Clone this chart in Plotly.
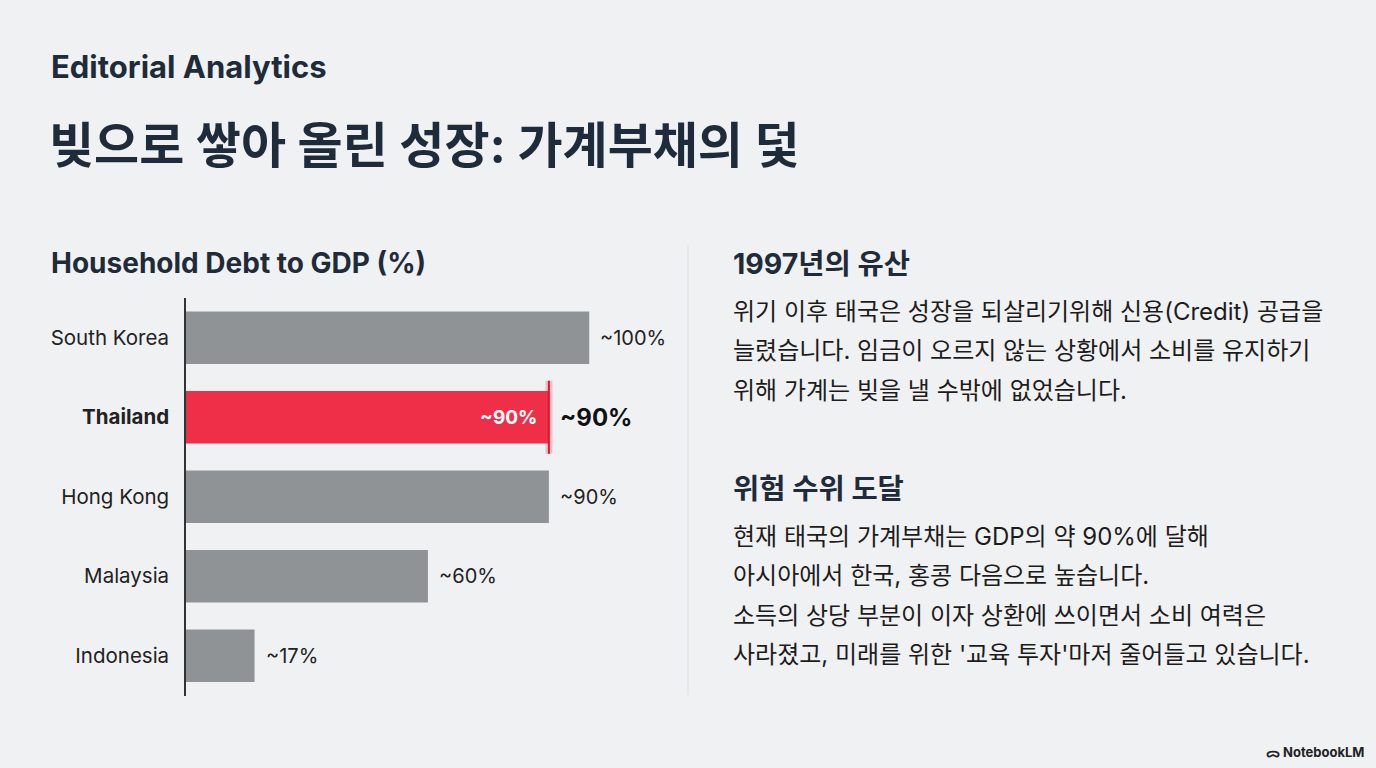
import plotly.graph_objects as go

# data
countries = ['South Korea', 'Thailand', 'Hong Kong', 'Malaysia', 'Indonesia']
debt_pct = [100, 90, 90, 60, 17]
value_labels = ['~100%', '~90%', '~90%', '~60%', '~17%']
focus = 'Thailand'

kicker = 'Editorial Analytics'
headline = '빚으로 쌓아 올린 성장: 가계부채의 덫'
chart_title = 'Household Debt to GDP (%)'

sec1_title = '1997년의 유산'
sec1_lines = ['위기 이후 태국은 성장을 되살리기위해 신용(Credit) 공급을',
              '늘렸습니다. 임금이 오르지 않는 상황에서 소비를 유지하기',
              '위해 가계는 빚을 낼 수밖에 없었습니다.']
sec2_title = '위험 수위 도달'
sec2_lines = ['현재 태국의 가계부채는 GDP의 약 90%에 달해',
              '아시아에서 한국, 홍콩 다음으로 높습니다.',
              '소득의 상당 부분이 이자 상환에 쓰이면서 소비 여력은',
              "사라졌고, 미래를 위한 '교육 투자'마저 줄어들고 있습니다."]

W, H = 1376, 768
BG = '#f0f1f3'
NAVY = '#1e2b3a'
GRAY = '#909396'
RED = '#ef2f48'
KFONT = 'Inter, Noto Sans CJK KR, sans-serif'


def px(x):
    return x / W


def py(y):
    return 1 - y / H


colors = [RED if c == focus else GRAY for c in countries]

fig = go.Figure()
fig.add_trace(go.Bar(
    x=debt_pct, y=countries, orientation='h',
    marker=dict(color=colors, line=dict(width=0)),
    width=0.66, hoverinfo='skip'))

annotations = []
# value labels
for c, v, lab in zip(countries, debt_pct, value_labels):
    if c == focus:
        annotations.append(dict(x=v, y=c, xref='x', yref='y', text='<b>' + lab + '</b>',
                                xanchor='right', xshift=-10, showarrow=False,
                                font=dict(family='Inter', size=19, color='white')))
        annotations.append(dict(x=v, y=c, xref='x', yref='y', text='<b>' + lab + '</b>',
                                xanchor='left', xshift=9, showarrow=False,
                                font=dict(family='Inter', size=24, color='#111111')))
    else:
        annotations.append(dict(x=v, y=c, xref='x', yref='y', text=lab,
                                xanchor='left', xshift=9, showarrow=False,
                                font=dict(family='Inter', size=20, color='#222222')))

# headings
annotations.append(dict(x=px(49), y=py(66), xref='paper', yref='paper', text='<b>' + kicker + '</b>',
                        xanchor='left', yanchor='middle', showarrow=False,
                        font=dict(family='Inter', size=31, color=NAVY)))
annotations.append(dict(x=px(47), y=py(145), xref='paper', yref='paper', text='<b>' + headline + '</b>',
                        xanchor='left', yanchor='middle', showarrow=False,
                        font=dict(family=KFONT, size=49, color=NAVY)))
annotations.append(dict(x=px(49), y=py(263), xref='paper', yref='paper', text='<b>' + chart_title + '</b>',
                        xanchor='left', yanchor='middle', showarrow=False,
                        font=dict(family='Inter', size=28, color=NAVY)))

# right text blocks
for title, lines, ty, y0 in [(sec1_title, sec1_lines, 263, 311), (sec2_title, sec2_lines, 488, 536)]:
    annotations.append(dict(x=px(731), y=py(ty), xref='paper', yref='paper', text='<b>' + title + '</b>',
                            xanchor='left', yanchor='middle', showarrow=False,
                            font=dict(family=KFONT, size=28.5, color=NAVY)))
    for i, line in enumerate(lines):
        annotations.append(dict(x=px(731), y=py(y0 + i * 39.5), xref='paper', yref='paper', text=line,
                                xanchor='left', yanchor='middle', showarrow=False,
                                font=dict(family=KFONT, size=24, color='#1c1c1c')))

annotations.append(dict(x=px(1366), y=py(752), xref='paper', yref='paper', text='<b>ᯅ NotebookLM</b>',
                        xanchor='right', yanchor='middle', showarrow=False,
                        font=dict(family='Inter', size=13, color='#222222')))

ticktext = ['<b>' + c + '</b>' if c == focus else c for c in countries]
focus_val = debt_pct[countries.index(focus)]
focus_idx = countries.index(focus)

shapes = [
    # divider
    dict(type='line', xref='paper', yref='paper', x0=px(688), x1=px(688), y0=py(245), y1=py(695),
         line=dict(color='#dcdde0', width=1)),
    # glow on the focus bar edge
    dict(type='line', xref='x', yref='y', x0=focus_val, x1=focus_val,
         y0=focus_idx - 0.46, y1=focus_idx + 0.46, line=dict(color='rgba(239,47,72,0.25)', width=7)),
    dict(type='line', xref='x', yref='y', x0=focus_val, x1=focus_val,
         y0=focus_idx - 0.46, y1=focus_idx + 0.46, line=dict(color='#d8192f', width=2)),
]

fig.update_layout(
    width=W, height=H,
    paper_bgcolor=BG, plot_bgcolor=BG,
    margin=dict(l=0, r=0, t=0, b=0),
    showlegend=False,
    annotations=annotations,
    shapes=shapes,
    xaxis=dict(domain=[px(186), px(686)], range=[0, 124], visible=False),
    yaxis=dict(domain=[py(695.5), py(298)], range=[4.5, -0.5], type='category',
               categoryorder='array', categoryarray=countries,
               tickvals=countries, ticktext=ticktext, ticks='', ticklabelstandoff=11,
               showline=True, linecolor='#333333', linewidth=1.5, showgrid=False, zeroline=False,
               tickfont=dict(family='Inter', size=20.5, color='#222222')),
)

fig.write_html('out.html', config={'displayModeBar': False},
               post_script="document.body.style.margin='0';")
